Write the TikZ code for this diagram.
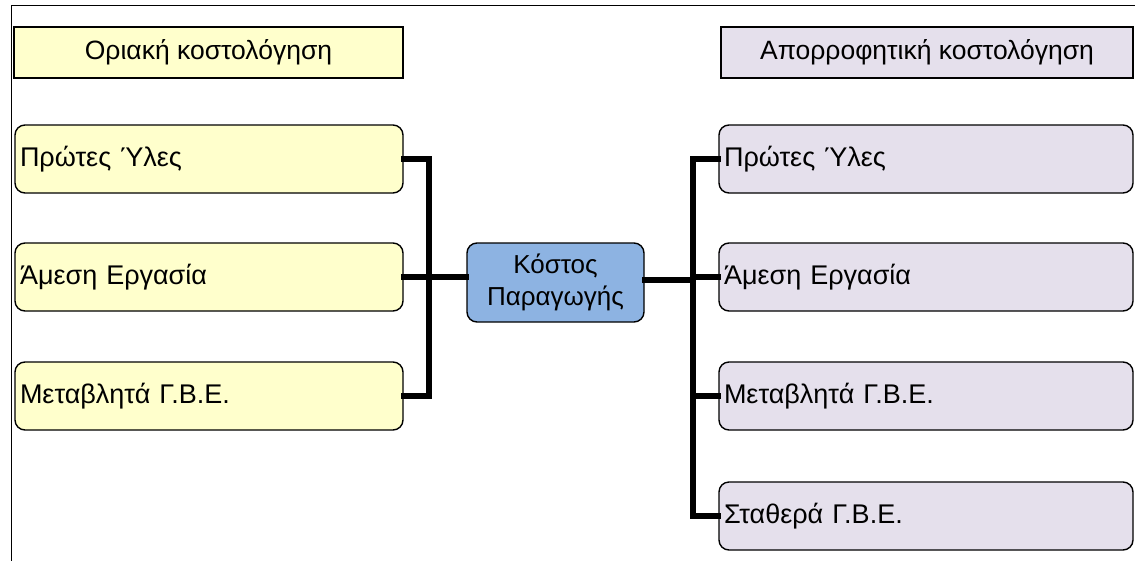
\documentclass[tikz,border=0pt]{standalone}
\usepackage{fontspec}
\setmainfont{Liberation Sans}
\begin{document}
\begin{tikzpicture}[x=1pt,y=-1pt,
  every node/.style={font=\fontsize{26.5}{31}\selectfont, inner sep=0pt},
  header/.style={draw, line width=1.4pt, minimum height=51pt, align=center},
  item/.style={draw, line width=1.4pt, rounded corners=10pt, minimum height=68pt,
               align=left, text width=#1, inner xsep=5pt,
               font=\fontsize{27}{31}\selectfont},
  leftcol/.style={fill=leftfill},
  rightcol/.style={fill=rightfill},
  conn/.style={line width=5.5pt, line cap=rect}
]
\definecolor{leftfill}{HTML}{FFFFCC}
\definecolor{rightfill}{HTML}{E5E0EC}
\definecolor{centerfill}{HTML}{8DB3E2}

\useasboundingbox (0,0) rectangle (1135,560);
% outer frame, running past the page edges
\draw[line width=1pt] (11,600) -- (11,5) -- (1200,5);

% column headings
\node[header, leftcol, minimum width=389pt] (hl) at (208.5,52.5) {Οριακή κοστολόγηση};
\node[header, rightcol, minimum width=412pt] (hr) at (927,52.5) {Απορροφητική κοστολόγηση};

% centre node
\node[draw, line width=1.4pt, rounded corners=10pt, fill=centerfill,
      minimum width=177pt, minimum height=79pt, align=center,
      font=\fontsize{26}{32}\selectfont] (c) at (555.5,282.5) {Κόστος\\Παραγωγής};

% left column
\node[item=378pt, leftcol] (l1) at (209,159) {Πρώτες Ύλες};
\node[item=378pt, leftcol] (l2) at (209,277) {Άμεση Εργασία};
\node[item=378pt, leftcol] (l3) at (209,396) {Μεταβλητά Γ.Β.Ε.};

% right column
\node[item=404pt, rightcol] (r1) at (926,159) {Πρώτες Ύλες};
\node[item=404pt, rightcol] (r2) at (926,277) {Άμεση Εργασία};
\node[item=404pt, rightcol] (r3) at (926,396) {Μεταβλητά Γ.Β.Ε.};
\node[item=404pt, rightcol] (r4) at (926,516) {Σταθερά Γ.Β.Ε.};

% connector junctions
\coordinate (jl) at (429,277);
\coordinate (jr) at (693,280);

% left tree
\draw[conn] (l1.east) -| (jl);
\draw[conn] (l3.east) -| (jl);
\draw[conn] (l2.east) -- (l2.east -| c.west);

% right tree
\draw[conn] (c.east |- jr) -- (jr);
\draw[conn] (r1.west) -| (jr);
\draw[conn] (r4.west) -| (jr);
\draw[conn] (jr |- r2.west) -- (r2.west);
\draw[conn] (jr |- r3.west) -- (r3.west);
\end{tikzpicture}
\end{document}
